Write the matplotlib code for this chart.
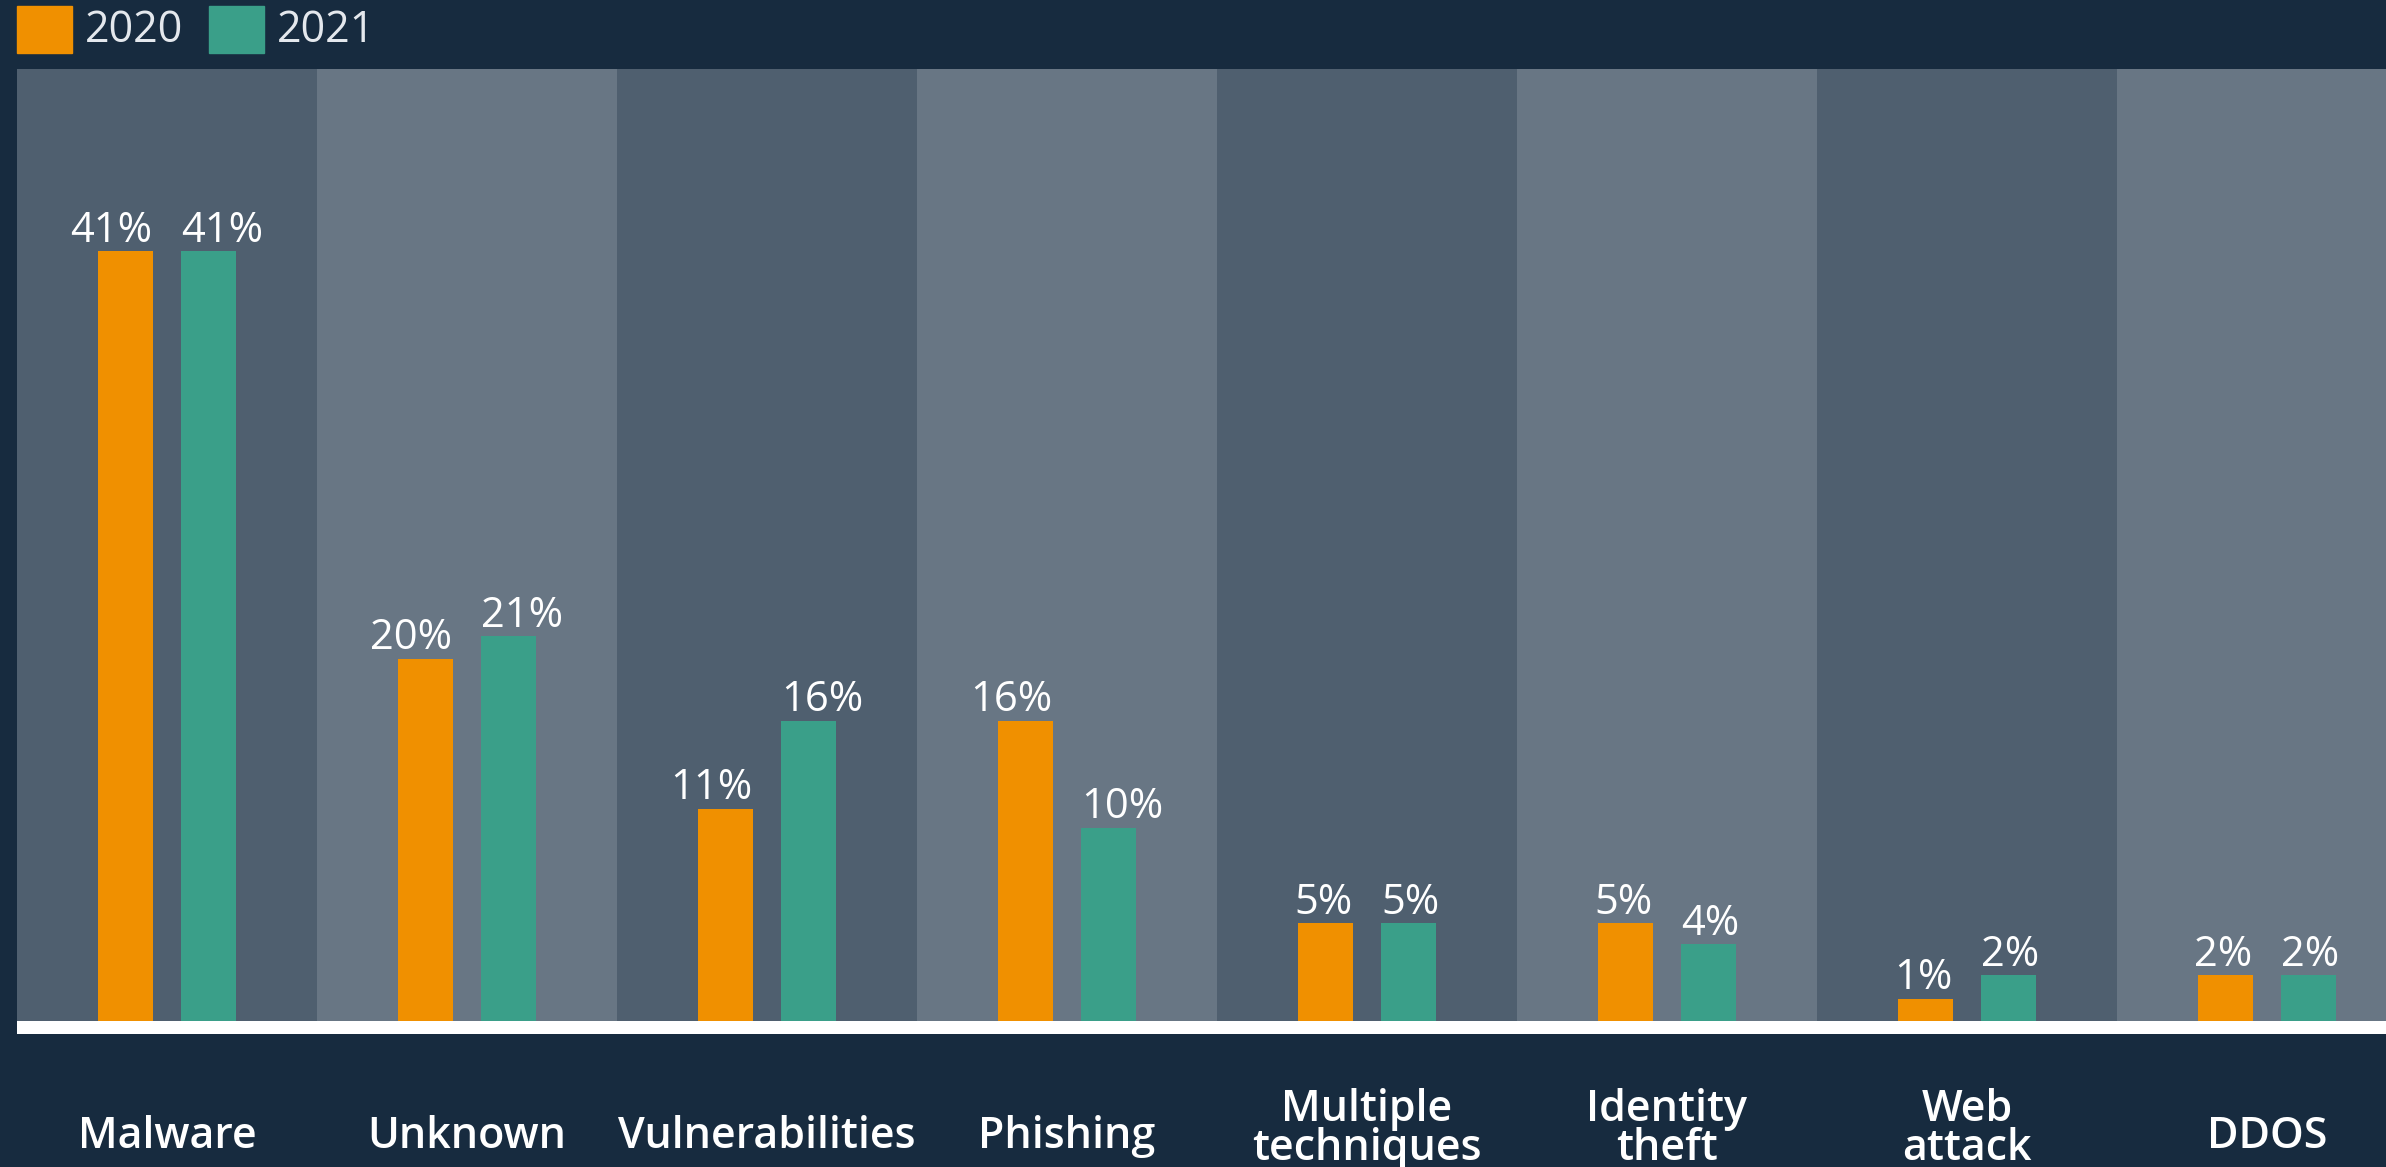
import matplotlib
matplotlib.use('Agg')
import matplotlib.pyplot as plt
import matplotlib.transforms as mtransforms
from matplotlib.patches import Rectangle

plt.rcParams['font.family'] = ['Open Sans', 'DejaVu Sans']

# data
categories = ['Malware', 'Unknown', 'Vulnerabilities', 'Phishing',
              'Multiple\ntechniques', 'Identity\ntheft', 'Web\nattack', 'DDOS']
years = ['2020', '2021']
values_2020 = [41.0, 19.3, 11.3, 16.0, 5.2, 5.2, 1.2, 2.45]
values_2021 = [41.0, 20.5, 16.0, 10.3, 5.2, 4.1, 2.45, 2.45]
labels_2020 = ['41%', '20%', '11%', '16%', '5%', '5%', '1%', '2%']
labels_2021 = ['41%', '21%', '16%', '10%', '5%', '4%', '2%', '2%']

# colours
bg = '#172b3f'
band_dark = '#4f5f6f'
band_light = '#687684'
orange = '#f09000'
teal = '#3a9f89'
text_col = '#ffffff'
legend_col = '#e4e8ed'

W, H = 2386, 1167
fig = plt.figure(figsize=(W / 100, H / 100), dpi=100, facecolor=bg)

# axes in pixel terms: left 17, right edge of image, top 69, white base to 1034
ax = fig.add_axes([17 / W, (H - 1034) / H, (W - 17) / W, (1034 - 69.3) / H])
ax.set_facecolor(bg)
for s in ax.spines.values():
    s.set_visible(False)
ax.set_xticks([])
ax.set_yticks([])

ax.set_xlim(-0.5, -0.5 + (W - 17) / 300)
ax.set_ylim(-0.69, 50.68)

# alternating background bands per category
for i in range(len(categories)):
    ax.axvspan(i - 0.5, i + 0.5, color=band_dark if i % 2 == 0 else band_light,
               lw=0, zorder=0)

x = list(range(len(categories)))
bw = 0.182
off = 0.139
ax.bar([i - off for i in x], values_2020, width=bw, color=orange, zorder=2)
ax.bar([i + off for i in x], values_2021, width=bw, color=teal, zorder=2)

# white base strip
ax.axhspan(-0.69, 0, color='white', lw=0, zorder=3)

# value labels: 2020 flush right with bar, 2021 flush left with bar
for i, (v, lab) in enumerate(zip(values_2020, labels_2020)):
    ax.text(i - off + bw / 2, v + 0.5, lab, ha='right', va='baseline',
            fontsize=30, color=text_col)
for i, (v, lab) in enumerate(zip(values_2021, labels_2021)):
    ax.text(i + off - bw / 2, v + 0.5, lab, ha='left', va='baseline',
            fontsize=30, color=text_col)

# category names under the chart
trans = mtransforms.blended_transform_factory(ax.transData, fig.transFigure)
for i, c in enumerate(categories):
    ypx = 1129 if '\n' in c else 1136
    ax.text(i, (H - ypx) / H, c, transform=trans, ha='center', va='center',
            fontsize=31, fontweight='semibold', color=text_col,
            linespacing=0.9, clip_on=False)

# legend
for px, col, yr in [(17, orange, years[0]), (209, teal, years[1])]:
    fig.patches.append(Rectangle((px / W, (H - 52.7) / H), 55 / W, 46.7 / H,
                                 transform=fig.transFigure, color=col))
    fig.text((px + 68) / W, (H - 41.7) / H, yr, ha='left', va='baseline',
             fontsize=31, color=legend_col)

fig.savefig('out.png', dpi=100, facecolor=bg)
